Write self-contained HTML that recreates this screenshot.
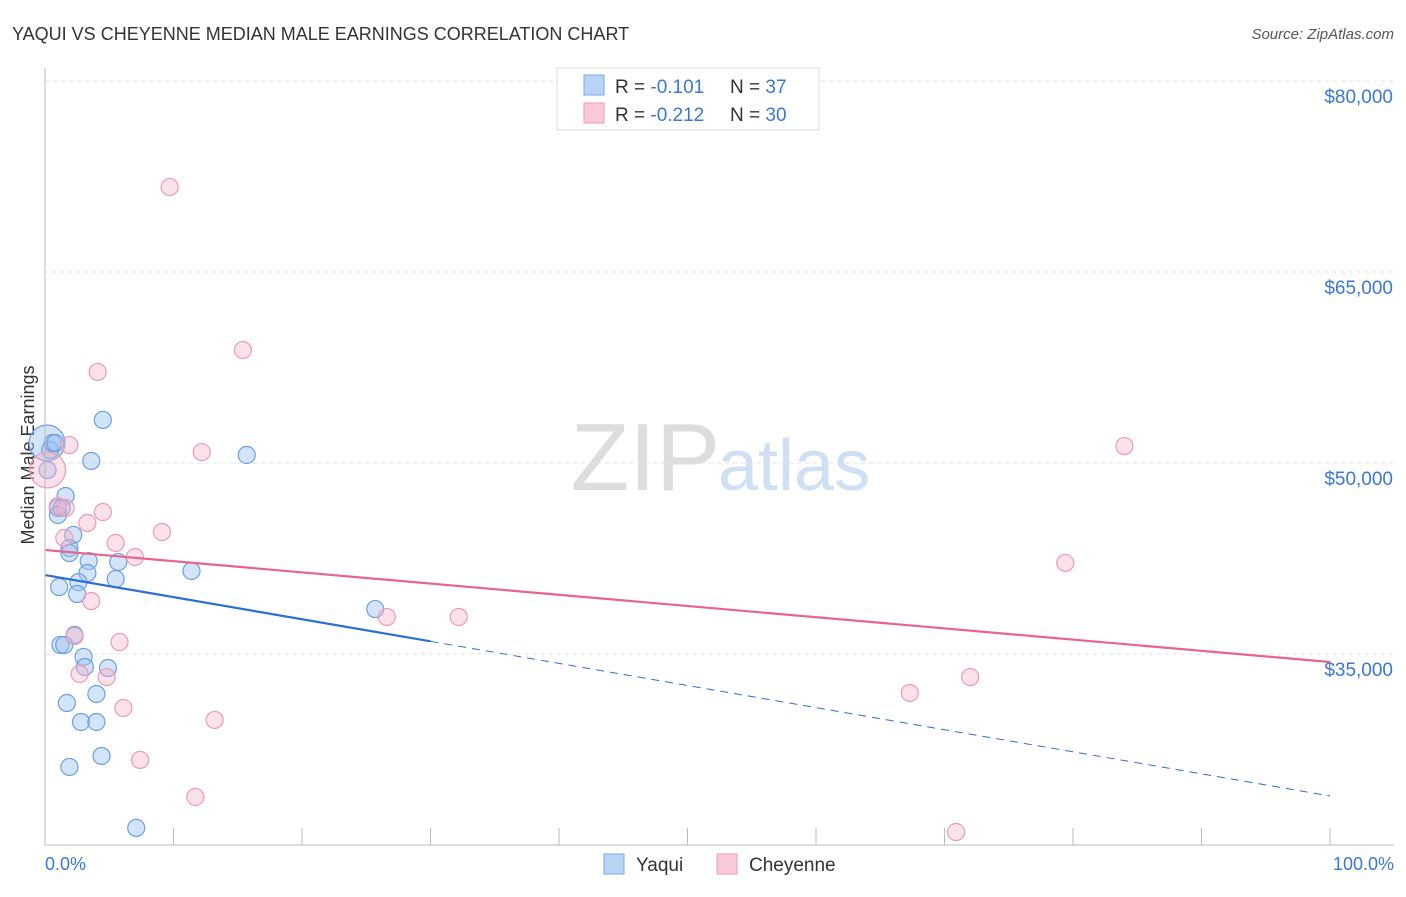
<!DOCTYPE html>
<html><head><meta charset="utf-8"><style>
body{margin:0;background:#fff;font-family:"Liberation Sans",sans-serif}
svg text{font-family:"Liberation Sans",sans-serif}
</style></head><body>
<svg id="c" width="1406" height="892">
<text x="12" y="40" font-size="18" fill="#333">YAQUI VS CHEYENNE MEDIAN MALE EARNINGS CORRELATION CHART</text>
<text x="1394" y="39" font-size="15" fill="#555" font-style="italic" text-anchor="end">Source: ZipAtlas.com</text>
<text x="720" y="490" font-size="96" fill="#ddd" font-family="Liberation Serif" text-anchor="end">ZIP</text>
<text x="718" y="490" font-size="72" fill="#cfe0f5">atlas</text>
<text transform="translate(34,455) rotate(-90)" font-size="18" fill="#333" text-anchor="middle">Median Male Earnings</text>
<g id="grid"></g><g id="pts"></g><g id="lines"></g>
<line x1="45" y1="68" x2="45" y2="845" stroke="#bbb"/>
<line x1="45" y1="845" x2="1394" y2="845" stroke="#bbb"/>
<text x="45" y="870" font-size="18" fill="#3a78d8">0.0%</text>
<text x="1394" y="870" font-size="18" fill="#3a78d8" text-anchor="end">100.0%</text>
<g>
<rect x="557" y="68" width="262" height="62" fill="#fff" stroke="#ddd"/>
<rect x="584" y="75" width="20" height="20" fill="#b9d3f5" stroke="#7aa7e6"/>
<rect x="584" y="103" width="20" height="20" fill="#f9c9d7" stroke="#ef9ab3"/>
<text x="615" y="93" font-size="19" fill="#333">R = <tspan fill="#3a78d8">-0.101</tspan><tspan x="730">N = </tspan><tspan fill="#3a78d8">37</tspan></text>
<text x="615" y="121" font-size="19" fill="#333">R = <tspan fill="#3a78d8">-0.212</tspan><tspan x="730">N = </tspan><tspan fill="#3a78d8">30</tspan></text>
</g>
<g>
<rect x="604" y="854" width="20" height="20" fill="#b9d3f5" stroke="#7aa7e6"/>
<text x="636" y="871" font-size="19" fill="#333">Yaqui</text>
<rect x="717" y="854" width="20" height="20" fill="#f9c9d7" stroke="#ef9ab3"/>
<text x="749" y="871" font-size="19" fill="#333">Cheyenne</text>
</g>
</svg>
<script>
const yTicks=[80000,65000,50000,35000];
const yTickLabels=["$80,000","$65,000","$50,000","$35,000"];
const yaquiX=[0.16,0.4,0.6,0.8,0.2,4.5,3.6,15.7,1.6,1.0,1.3,1.0,2.2,1.9,1.9,3.4,5.7,3.3,2.6,5.5,11.4,1.1,2.5,25.7,2.3,1.2,1.5,3.0,3.1,4.9,4.0,1.7,2.8,4.0,4.4,1.9,7.1];
const yaquiY=[51570,51020,51570,51570,49450,53380,50160,50630,47410,46470,46470,45920,44350,43320,42930,42300,42230,41360,40650,40890,41520,40260,39710,38530,36490,35710,35710,34770,33980,33900,31860,31150,29660,29660,26990,26130,21340];
const cheyX=[0.2,1.9,4.1,9.7,15.4,12.2,84.0,1.0,1.6,4.5,3.3,1.5,5.5,9.1,7.0,79.4,3.6,26.6,32.2,2.3,5.8,2.7,4.8,67.3,72.0,6.1,13.2,7.4,11.7,70.9];
const cheyY=[49450,51410,57150,71670,58870,50860,51330,46620,46470,46150,45290,44110,43720,44580,42620,42150,39160,37910,37910,36410,35940,33430,33190,31940,33190,30760,29820,26680,23770,21020];
const yaquiTrend=[41200,23850];
const cheyTrend=[43170,34370];
const NS="http://www.w3.org/2000/svg";
const xs=p=>45+p*12.85;
const ys=v=>463-(v-50000)*191/15000;
function mk(t,a,parent){const e=document.createElementNS(NS,t);for(const k in a)e.setAttribute(k,a[k]);document.getElementById(parent).appendChild(e);return e;}
yTicks.forEach((v,i)=>{
 const l=mk('line',{x1:45,x2:1394,y1:ys(v),y2:ys(v),stroke:'#e2e2e2','stroke-dasharray':'4,4'},'grid');
 
 
 const t=mk('text',{x:1393,y:ys(v)+22,'font-size':19,fill:'#3a78d8','text-anchor':'end'},'grid');
 t.textContent=yTickLabels[i];
 
 
});
for(let i=0;i<=10;i++){
 const l=mk('line',{x1:xs(i*10),x2:xs(i*10),y1:828,y2:845,stroke:'#bbb'},'grid');
 
 
}
yaquiX.forEach((x,i)=>{
 const c=mk('circle',{cx:xs(x),cy:ys(yaquiY[i]),r:i==0?18:8.5,fill:'rgba(160,195,240,0.45)',stroke:'#6a9fe3','stroke-width':1.2},'pts');
 
 
});
cheyX.forEach((x,i)=>{
 const c=mk('circle',{cx:xs(x),cy:ys(cheyY[i]),r:i==0?18:8.5,fill:'rgba(245,180,200,0.4)',stroke:'#ef9ab3','stroke-width':1.2},'pts');
 
 
});
const by=p=>yaquiTrend[0]+(yaquiTrend[1]-yaquiTrend[0])*p/100;
let l=mk('line',{x1:xs(0),y1:ys(by(0)),x2:xs(30),y2:ys(by(30)),stroke:'#2a6fd6','stroke-width':2.2},'lines');


l=mk('line',{x1:xs(30),y1:ys(by(30)),x2:xs(100),y2:ys(by(100)),stroke:'#2a6fd6','stroke-width':1,'stroke-dasharray':'8,6'},'lines');


l=mk('line',{x1:xs(0),y1:ys(cheyTrend[0]),x2:xs(100),y2:ys(cheyTrend[1]),stroke:'#e8648e','stroke-width':2.2},'lines');


</script>
</body></html>
